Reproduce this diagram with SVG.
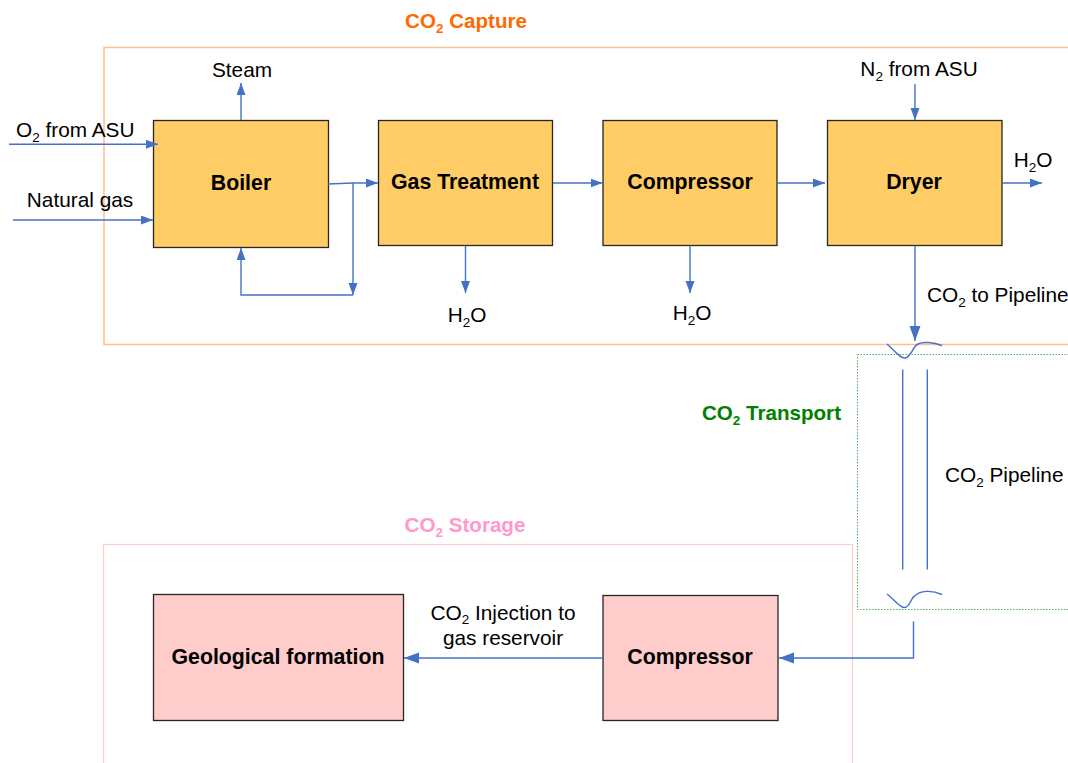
<svg xmlns="http://www.w3.org/2000/svg" width="1068" height="763" viewBox="0 0 1068 763">
<style>
text{font-family:"Liberation Sans",Arial,sans-serif;fill:#000}
.t{font-size:20.8px}
.b{font-size:21.3px;font-weight:bold}
.h{font-size:20.6px;font-weight:bold}
.n{stroke:#262626;stroke-width:1.3}
.y{fill:#FFCC66}
.p{fill:#FFCCCC}
.c{fill:none;stroke:#4472C4;stroke-width:1.4}
.s{font-size:13.5px}
</style>
<defs>
<marker id="a" markerUnits="userSpaceOnUse" markerWidth="14" markerHeight="10" refX="12" refY="4.5" orient="auto"><path d="M0,0 L12,4.5 L0,9 Z" fill="#4472C4"/></marker>
<marker id="A" markerUnits="userSpaceOnUse" markerWidth="16" markerHeight="12" refX="15" refY="5.5" orient="auto"><path d="M0,0 L15,5.5 L0,11 Z" fill="#4472C4"/></marker>
</defs>
<g id="capture-area">
<rect x="104" y="47.5" width="980" height="297" fill="none" stroke="#FFC08F" stroke-width="1.5"/>
<text class="h" x="466" y="28" text-anchor="middle" style="fill:#FF6A00">CO<tspan class="s" dy="5">2</tspan><tspan dy="-5"> Capture</tspan></text>
</g>
<g id="transport-area">
<rect x="857.5" y="354.5" width="230" height="255" fill="none" stroke="#5FAF5F" stroke-width="1" stroke-dasharray="1.5,1.5"/>
<text class="h" x="841" y="420" text-anchor="end" style="fill:#008000">CO<tspan class="s" dy="5">2</tspan><tspan dy="-5"> Transport</tspan></text>
<text class="t" x="945" y="482">CO<tspan class="s" dy="5">2</tspan><tspan dy="-5"> Pipeline</tspan></text>
</g>
<g id="storage-area">
<rect x="103.5" y="544.5" width="749" height="240" fill="none" stroke="#FFCCCC" stroke-width="1.2"/>
<text class="h" x="465" y="532" text-anchor="middle" style="fill:#FF99CC">CO<tspan class="s" dy="5">2</tspan><tspan dy="-5"> Storage</tspan></text>
</g>
<g id="boiler"><rect class="n y" x="153.5" y="120.5" width="175" height="127"/><text class="b" x="241" y="190" text-anchor="middle">Boiler</text></g>
<g id="gas-treatment"><rect class="n y" x="378.5" y="120.5" width="174" height="125"/><text class="b" x="465" y="189" text-anchor="middle">Gas Treatment</text></g>
<g id="compressor-1"><rect class="n y" x="603" y="120.5" width="174" height="125"/><text class="b" x="690" y="189" text-anchor="middle">Compressor</text></g>
<g id="dryer"><rect class="n y" x="827.5" y="120.5" width="174.5" height="125"/><text class="b" x="914" y="189" text-anchor="middle">Dryer</text></g>
<g id="geological-formation"><rect class="n p" x="153.5" y="594.5" width="250" height="126"/><text class="b" x="278" y="664" text-anchor="middle">Geological formation</text></g>
<g id="compressor-2"><rect class="n p" x="603" y="595.5" width="175" height="125"/><text class="b" x="690" y="664" text-anchor="middle">Compressor</text></g>
<g id="connectors">
<path class="c" d="M9,144.3 H158" marker-end="url(#a)"/>
<path class="c" d="M13,220 H153" marker-end="url(#a)"/>
<path class="c" d="M241,120 V83" marker-end="url(#a)"/>
<path class="c" d="M328,184 L353,183 H378" marker-end="url(#a)"/>
<path class="c" d="M353,183 V295" marker-end="url(#a)"/>
<path class="c" d="M353,295 H241 V248" marker-end="url(#a)"/>
<path class="c" d="M553,183 H602.5" marker-end="url(#a)"/>
<path class="c" d="M777,183 H825" marker-end="url(#a)"/>
<path class="c" d="M465.5,245.5 V293" marker-end="url(#a)"/>
<path class="c" d="M690,245.5 V293" marker-end="url(#a)"/>
<path class="c" d="M915,84 V120" marker-end="url(#a)"/>
<path class="c" d="M1002,183 H1042" marker-end="url(#a)"/>
<path class="c" d="M915,245.5 V341" marker-end="url(#A)"/>
<path class="c" d="M887,344 C895,351 900,358.5 905,358 C911,357.5 913,346 918,344 C923,341.5 933,342 942,345.5"/>
<path class="c" d="M902.7,369.5 V569.5 M927.3,369.5 V569.5"/>
<path class="c" d="M887,594 C895,600 900,608 905,607.5 C910,607 911,598 914,596.5 C920,590 932,590 942,594.5"/>
<path class="c" d="M913.5,621.5 V658 H779" marker-end="url(#A)"/>
<path class="c" d="M603,658 H404" marker-end="url(#A)"/>
</g>
<g id="labels">
<text class="t" x="16" y="137">O<tspan class="s" dy="5">2</tspan><tspan dy="-5"> from ASU</tspan></text>
<text class="t" x="80" y="207" text-anchor="middle">Natural gas</text>
<text class="t" x="242" y="77" text-anchor="middle">Steam</text>
<text class="t" x="467" y="322" text-anchor="middle">H<tspan class="s" dy="5">2</tspan><tspan dy="-5">O</tspan></text>
<text class="t" x="692" y="320" text-anchor="middle">H<tspan class="s" dy="5">2</tspan><tspan dy="-5">O</tspan></text>
<text class="t" x="919" y="76" text-anchor="middle">N<tspan class="s" dy="5">2</tspan><tspan dy="-5"> from ASU</tspan></text>
<text class="t" x="1033" y="167" text-anchor="middle">H<tspan class="s" dy="5">2</tspan><tspan dy="-5">O</tspan></text>
<text class="t" x="927" y="302">CO<tspan class="s" dy="5">2</tspan><tspan dy="-5"> to Pipeline</tspan></text>
<text class="t" x="503" y="620" text-anchor="middle">CO<tspan class="s" dy="3.5">2</tspan><tspan dy="-3.5"> Injection to</tspan></text>
<text class="t" x="503" y="645" text-anchor="middle">gas reservoir</text>
</g>
</svg>
